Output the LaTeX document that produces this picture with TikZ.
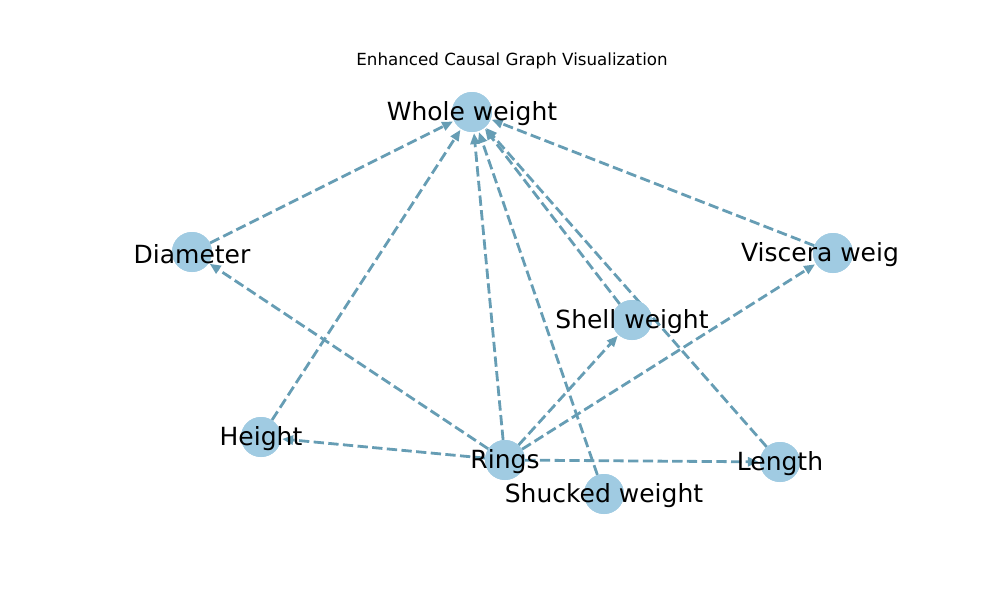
\documentclass[tikz,border=0pt]{standalone}
\usepackage{fontspec}
\setmainfont{DejaVu Sans}
\usetikzlibrary{arrows.meta}
\definecolor{edgec}{HTML}{669DB4}
\definecolor{nodec}{HTML}{A0CBE2}
\begin{document}
\begin{tikzpicture}[x=1pt,y=-1pt,
  vtx/.style={circle,fill=nodec,draw=none,minimum size=40pt,inner sep=0pt},
  lbl/.style={font=\fontsize{25}{30}\selectfont,inner sep=0pt,text=black,yshift=-2pt},
  edge/.style={draw=edgec,line width=2.8pt,dash pattern=on 10.3pt off 4.4pt,
    -{Triangle[length=11pt,width=9pt]},shorten >=1pt}]
\useasboundingbox (0,0) rectangle (1000,600);
\node[font=\fontsize{16.7}{20}\selectfont,yshift=-2pt] (title) at (512,59) {Enhanced Causal Graph Visualization};
\node[vtx] (W) at (472,112) {};
\node[vtx] (D) at (192,252) {};
\node[vtx] (V) at (833,253) {};
\node[vtx] (S) at (632,320) {};
\node[vtx] (H) at (261,437) {};
\node[vtx] (R) at (505,460) {};
\node[vtx] (L) at (780,462) {};
\node[vtx] (U) at (604,494) {};
\draw[edge] (D) -- (W);
\draw[edge] (H) -- (W);
\draw[edge] (R) -- (W);
\draw[edge] (U) -- (W);
\draw[edge] (S) -- (W);
\draw[edge] (L) -- (W);
\draw[edge] (V) -- (W);
\draw[edge] (R) -- (D);
\draw[edge] (R) -- (S);
\draw[edge] (R) -- (V);
\draw[edge] (R) -- (H);
\draw[edge] (R) -- (L);
\foreach \n in {W,D,V,S,H,R,L,U} { \fill[nodec] (\n) circle (20pt); }
\node[lbl] (tW) at (472,112) {Whole weight};
\node[lbl] (tD) at (192,252) {Diameter};
\node[lbl] (tV) at (820,253) {Viscera weig};
\node[lbl] (tS) at (632,320) {Shell weight};
\node[lbl] (tH) at (261,437) {Height};
\node[lbl] (tR) at (505,460) {Rings};
\node[lbl] (tL) at (780,462) {Length};
\node[lbl] (tU) at (604,494) {Shucked weight};
\end{tikzpicture}
\end{document}
